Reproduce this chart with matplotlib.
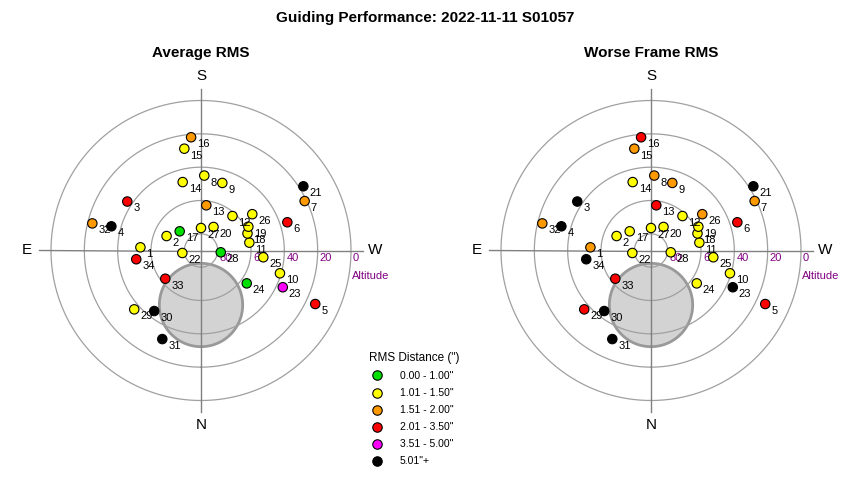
import numpy as np
import matplotlib
matplotlib.use("Agg")
import matplotlib.pyplot as plt
from matplotlib.lines import Line2D

plt.rcParams['font.family'] = ['Liberation Sans', 'DejaVu Sans']

# frame number, altitude (deg), azimuth (deg, N=0 E=90)
frames = list(range(1, 35))
alt = [53.6, 67.6, 36.9, 34.3, 14.3, 35.5, 21.1, 45.0, 47.5, 40.7,
       60.6, 62.0, 62.7, 47.5, 28.1, 21.8, 72.8, 60.3, 58.2, 74.0,
       17.5, 78.7, 36.2, 56.2, 52.4, 52.3, 76.5, 78.1, 36.6, 44.1,
       32.0, 22.8, 62.7, 50.8]
az = [93.0, 112.8, 123.6, 105.1, 295.1, 251.9, 244.5, 182.5, 197.5, 286.1,
      260.8, 222.4, 186.7, 165.0, 170.7, 175.0, 132.0, 249.9, 243.3, 208.0,
      237.9, 82.4, 294.2, 305.7, 276.2, 234.7, 180.0, 275.2, 48.6, 37.7,
      23.6, 104.0, 51.7, 82.3]

# RMS class per frame (0..5) for each panel
avg_class = [1, 1, 3, 5, 3, 3, 2, 1, 1, 1,
             1, 1, 2, 1, 1, 2, 0, 1, 1, 1,
             5, 1, 4, 0, 1, 1, 1, 0, 1, 5,
             5, 2, 3, 3]
worst_class = [2, 1, 5, 5, 3, 3, 2, 2, 2, 1,
               1, 1, 3, 1, 2, 3, 1, 1, 1, 1,
               5, 1, 5, 1, 1, 2, 1, 1, 3, 5,
               5, 2, 3, 5]

class_labels = ['0.00 - 1.00"', '1.01 - 1.50"', '1.51 - 2.00"',
                '2.01 - 3.50"', '3.51 - 5.00"', '5.01"+']
class_colors = ['#00e000', '#ffff00', '#ff9900', '#ff0000', '#ff00ff', '#000000']

alt_rings = [80, 60, 40, 20, 0]

# moon avoidance zone
moon_alt = 57.3
moon_az = 0.0
moon_radius = 25.0

fig = plt.figure(figsize=(8.5, 4.8), dpi=100)
fig.text(0.5, 1 - 18 / 480, 'Guiding Performance: 2022-11-11 S01057',
         ha='center', va='center', fontsize=11, fontweight='bold')


def draw_panel(left_px, title, classes):
    ax = fig.add_axes([(left_px - 150) / 850, (480 - 250.5 - 150) / 480,
                       300 / 850, 300 / 480], projection='polar')
    ax.set_theta_zero_location('S')
    ax.set_theta_direction(-1)
    ax.set_ylim(0, 90)
    ax.grid(False)
    ax.set_xticks([])
    ax.set_yticks([])
    ax.spines['polar'].set_visible(False)
    ax.patch.set_alpha(0)

    # moon
    mz = 90 - moon_alt
    cx, cy = mz * np.sin(np.radians(moon_az)), mz * np.cos(np.radians(moon_az))
    t = np.linspace(0, 2 * np.pi, 200)
    px = cx + moon_radius * np.cos(t)
    py = cy + moon_radius * np.sin(t)
    ax.fill(np.arctan2(px, py), np.hypot(px, py), facecolor='#d3d3d3',
            edgecolor='#999999', linewidth=2, zorder=1)

    th = np.linspace(0, 2 * np.pi, 361)
    for a in alt_rings:
        ax.plot(th, np.full_like(th, 90 - a), color='#a0a0a0', lw=0.9,
                zorder=2, clip_on=False)
        ax.annotate(str(a), (np.radians(270), 90 - a), xytext=(1.5, -5.5),
                    textcoords='offset points', ha='left', va='center',
                    fontsize=8, color='#800080', zorder=3)
    ax.annotate('Altitude', (np.radians(270), 90), xytext=(1, -18.5),
                textcoords='offset points', ha='left', va='center',
                fontsize=8, color='#800080', annotation_clip=False)
    for d in [0, 90, 180, 270]:
        ax.plot([np.radians(d)] * 2, [0, 97], color='#808080', lw=1,
                zorder=2, clip_on=False)
    for d, s in zip([180, 0, 90, 270], ['S', 'N', 'E', 'W']):
        ax.text(np.radians(d), 104.5, s, ha='center', va='center',
                fontsize=11, clip_on=False)

    theta = np.radians(az)
    r = 90 - np.array(alt)
    cols = [class_colors[c] for c in classes]
    ax.scatter(theta, r, s=46, c=cols, edgecolors='black', linewidths=0.8,
               zorder=4, clip_on=False)
    for f, tt, rr in zip(frames, theta, r):
        ax.annotate(str(f), (tt, rr), xytext=(4.3, -5.0),
                    textcoords='offset points', ha='left', va='center',
                    fontsize=8, color='black', zorder=5)
    fig.text(left_px / 850, 1 - 53 / 480, title, ha='center', va='center',
             fontsize=11, fontweight='bold')
    return ax


draw_panel(201, 'Average RMS', avg_class)
draw_panel(651, 'Worse Frame RMS', worst_class)

handles = [Line2D([], [], marker='o', ls='none', markersize=6.8,
                  markerfacecolor=c, markeredgecolor='black', markeredgewidth=0.8)
           for c in class_colors]
fig.legend(handles, class_labels, title='RMS Distance (")', loc='upper left',
           bbox_to_anchor=(369 / 850, 1 - 352 / 480), frameon=False,
           fontsize=7.5, title_fontsize=8.5, alignment='left',
           handlelength=1.5, handletextpad=1.45, labelspacing=0.68,
           borderaxespad=0, borderpad=0)

fig.savefig('out.png', dpi=100)
